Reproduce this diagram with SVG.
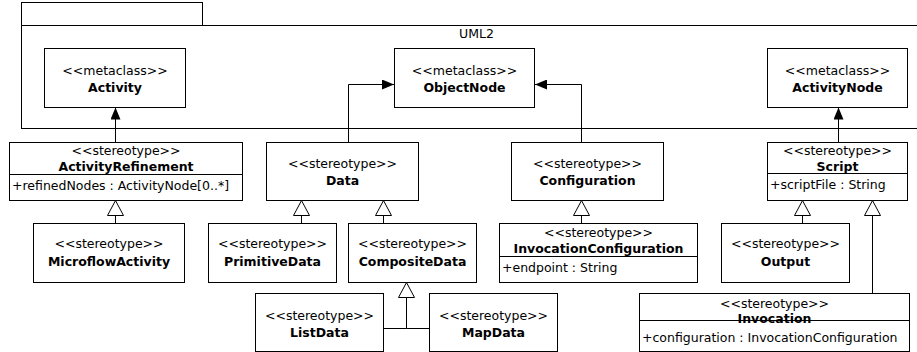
<svg xmlns="http://www.w3.org/2000/svg" width="917" height="352" viewBox="0 0 917 352">
<defs>
<style>
.box{fill:#fff;stroke:#000;stroke-width:1}
.ln{fill:none;stroke:#000;stroke-width:1}
text{font-family:"DejaVu Sans",Verdana,sans-serif;font-size:12.5px;fill:#000}
.c{text-anchor:middle}
.b{font-weight:bold}
.gen{marker-end:url(#hollow)}
.dep{marker-end:url(#filled)}
</style>
<marker id="hollow" viewBox="0 0 16 17" refX="15.5" refY="8.5" markerWidth="16" markerHeight="17" markerUnits="userSpaceOnUse" orient="auto">
<path d="M0.5,0.5 L15.5,8.5 L0.5,16.5 Z" fill="#fff" stroke="#000" stroke-width="1"/>
</marker>
<marker id="filled" viewBox="0 0 12 10" refX="12" refY="5" markerWidth="12" markerHeight="10" markerUnits="userSpaceOnUse" orient="auto">
<path d="M0,0 L12,5 L0,10 Z" fill="#000"/>
</marker>
</defs>
<rect width="917" height="352" fill="#fff"/>
<g id="UML2">
<rect class="box" x="21.5" y="2.5" width="181" height="23"/>
<rect class="box" x="21.5" y="25.5" width="910" height="103"/>
<text x="459" y="38">UML2</text>
</g>
<g id="Activity">
<rect class="box" x="44.5" y="48.5" width="141" height="59"/>
<text class="c" x="115" y="75">&lt;&lt;metaclass&gt;&gt;</text>
<text class="c b" x="115" y="92">Activity</text>
</g>
<g id="ObjectNode">
<rect class="box" x="394.5" y="48.5" width="140" height="59"/>
<text class="c" x="464.5" y="75">&lt;&lt;metaclass&gt;&gt;</text>
<text class="c b" x="464.5" y="92">ObjectNode</text>
</g>
<g id="ActivityNode">
<rect class="box" x="767.5" y="48.5" width="140" height="59"/>
<text class="c" x="837.5" y="75">&lt;&lt;metaclass&gt;&gt;</text>
<text class="c b" x="837.5" y="92">ActivityNode</text>
</g>
<g id="ActivityRefinement">
<rect class="box" x="9.5" y="142.5" width="233" height="58"/>
<line class="ln" x1="9.5" y1="174.5" x2="242.5" y2="174.5"/>
<text class="c" x="126" y="155">&lt;&lt;stereotype&gt;&gt;</text>
<text class="c b" x="126" y="171">ActivityRefinement</text>
<text x="12" y="190">+refinedNodes : ActivityNode[0..*]</text>
</g>
<g id="Data">
<rect class="box" x="266.5" y="142.5" width="152" height="58"/>
<text class="c" x="342.5" y="168">&lt;&lt;stereotype&gt;&gt;</text>
<text class="c b" x="342.5" y="185">Data</text>
</g>
<g id="Configuration">
<rect class="box" x="511.5" y="142.5" width="152" height="58"/>
<text class="c" x="587.5" y="168">&lt;&lt;stereotype&gt;&gt;</text>
<text class="c b" x="587.5" y="185">Configuration</text>
</g>
<g id="Script">
<rect class="box" x="767.5" y="142.5" width="140" height="58"/>
<line class="ln" x1="767.5" y1="173.5" x2="907.5" y2="173.5"/>
<text class="c" x="837.5" y="155">&lt;&lt;stereotype&gt;&gt;</text>
<text class="c b" x="837.5" y="171">Script</text>
<text x="770" y="189">+scriptFile : String</text>
</g>
<g id="MicroflowActivity">
<rect class="box" x="33.5" y="223.5" width="151" height="59"/>
<text class="c" x="109" y="248">&lt;&lt;stereotype&gt;&gt;</text>
<text class="c b" x="109" y="266">MicroflowActivity</text>
</g>
<g id="PrimitiveData">
<rect class="box" x="208.5" y="223.5" width="128" height="59"/>
<text class="c" x="272.5" y="248">&lt;&lt;stereotype&gt;&gt;</text>
<text class="c b" x="272.5" y="266">PrimitiveData</text>
</g>
<g id="CompositeData">
<rect class="box" x="348.5" y="223.5" width="128" height="59"/>
<text class="c" x="412.5" y="248">&lt;&lt;stereotype&gt;&gt;</text>
<text class="c b" x="412.5" y="266">CompositeData</text>
</g>
<g id="InvocationConfiguration">
<rect class="box" x="499.5" y="223.5" width="198" height="59"/>
<line class="ln" x1="499.5" y1="256.5" x2="697.5" y2="256.5"/>
<text class="c" x="598.5" y="237">&lt;&lt;stereotype&gt;&gt;</text>
<text class="c b" x="598.5" y="253">InvocationConfiguration</text>
<text x="502" y="272">+endpoint : String</text>
</g>
<g id="Output">
<rect class="box" x="721.5" y="223.5" width="128" height="59"/>
<text class="c" x="785.5" y="248">&lt;&lt;stereotype&gt;&gt;</text>
<text class="c b" x="785.5" y="266">Output</text>
</g>
<g id="ListData">
<rect class="box" x="255.5" y="293.5" width="128" height="58"/>
<text class="c" x="319.5" y="320">&lt;&lt;stereotype&gt;&gt;</text>
<text class="c b" x="319.5" y="337">ListData</text>
</g>
<g id="MapData">
<rect class="box" x="429.5" y="293.5" width="128" height="58"/>
<text class="c" x="493.5" y="320">&lt;&lt;stereotype&gt;&gt;</text>
<text class="c b" x="493.5" y="337">MapData</text>
</g>
<g id="Invocation">
<rect class="box" x="639.5" y="293.5" width="270" height="58"/>
<line class="ln" x1="639.5" y1="320.5" x2="909.5" y2="320.5"/>
<text class="c" x="774.5" y="308">&lt;&lt;stereotype&gt;&gt;</text>
<text class="c b" x="774.5" y="323">Invocation</text>
<text x="642" y="342">+configuration : InvocationConfiguration</text>
</g>
<g id="connectors">
<path class="ln dep" d="M115.5,142 V107.5"/>
<path class="ln dep" d="M348.5,142 V84.5 H394"/>
<path class="ln dep" d="M581.5,142 V84.5 H535"/>
<path class="ln dep" d="M838.5,142 V107.5"/>
<path class="ln gen" d="M115.5,223 V200.5"/>
<path class="ln gen" d="M301.5,223 V200.5"/>
<path class="ln gen" d="M383.5,223 V200.5"/>
<path class="ln gen" d="M383.5,328.5 H406.5 V282.5"/>
<path class="ln" d="M429.5,328.5 H406.5"/>
<path class="ln gen" d="M581.5,223 V200.5"/>
<path class="ln gen" d="M802.5,223 V200.5"/>
<path class="ln gen" d="M872.5,293 V200.5"/>
</g>
</svg>
